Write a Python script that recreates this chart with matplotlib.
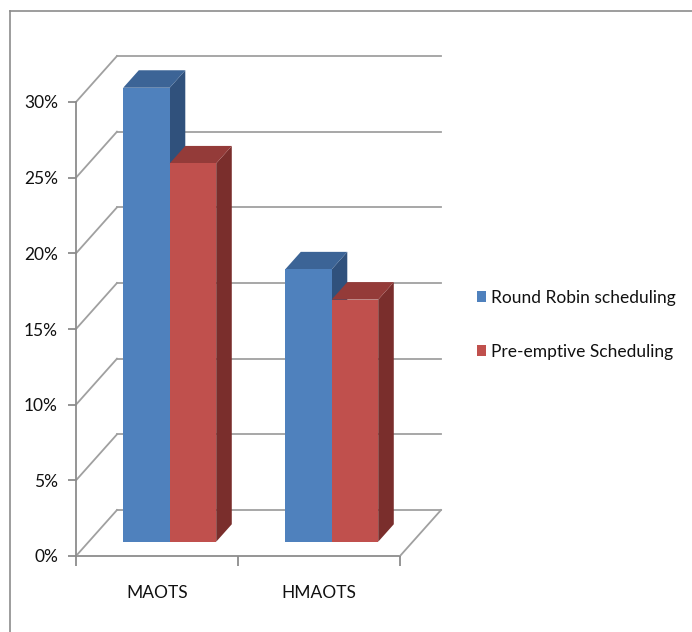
import matplotlib
matplotlib.use("Agg")
import matplotlib.pyplot as plt
from matplotlib.patches import Polygon, Patch
from matplotlib.lines import Line2D

plt.rcParams['font.family'] = ['Lato', 'DejaVu Sans']

categories = ["MAOTS", "HMAOTS"]
series_names = ["Round Robin scheduling", "Pre-emptive Scheduling"]
round_robin = [30, 18]
pre_emptive = [25, 16]
y_ticks = [0, 5, 10, 15, 20, 25, 30]
y_tick_labels = ["0%", "5%", "10%", "15%", "20%", "25%", "30%"]

W, H = 692, 632
fig = plt.figure(figsize=(W / 100, H / 100), dpi=100)
fig.patch.set_facecolor("white")

# front plane: x 76..400 px, y 556 (0%) .. 102 (30%)
ax = fig.add_axes([76 / W, (H - 556) / H, (400 - 76) / W, (556 - 102) / H])
ax.set_xlim(0, len(categories))
ax.set_ylim(0, 30)
ax.set_facecolor("none")

# depth offset (full depth) in data units
DX = 41 / 162.0
DY = 46 / (454 / 30.0)

grid_c = "#a0a0a0"
glw = 1.3
n = len(categories)
for v in y_ticks:
    ax.plot([DX, n + DX], [v + DY, v + DY], color=grid_c, lw=glw, clip_on=False, zorder=1)
    ax.plot([0, DX], [v, v + DY], color=grid_c, lw=glw, clip_on=False, zorder=1)
# floor right edge
ax.plot([n, n + DX], [0, DY], color=grid_c, lw=glw, clip_on=False, zorder=1)

# bars
front_colors = ["#4F81BD", "#C0504D"]
top_colors = ["#3C6496", "#943B39"]
side_colors = ["#30517C", "#7A2E2C"]
bar_w = 0.287
f0, fd = 0.31, 0.38  # depth position / depth of bars (fraction)
ox, oy = f0 * DX, f0 * DY
bx, by = fd * DX, fd * DY
z = 3
for i in range(n):
    for s, vals in enumerate([round_robin, pre_emptive]):
        x0 = i + 0.5 - bar_w + s * bar_w + ox
        x1 = x0 + bar_w
        y0 = oy
        y1 = vals[i] + oy
        # side face
        ax.add_patch(Polygon([(x1, y0), (x1 + bx, y0 + by), (x1 + bx, y1 + by), (x1, y1)],
                             closed=True, fc=side_colors[s], ec="none", clip_on=False, zorder=z))
        # top face
        ax.add_patch(Polygon([(x0, y1), (x1, y1), (x1 + bx, y1 + by), (x0 + bx, y1 + by)],
                             closed=True, fc=top_colors[s], ec="none", clip_on=False, zorder=z))
        # front face
        ax.add_patch(Polygon([(x0, y0), (x1, y0), (x1, y1), (x0, y1)],
                             closed=True, fc=front_colors[s], ec="none", clip_on=False, zorder=z))
        z += 1

# axes spines / ticks
for sp in ["top", "right"]:
    ax.spines[sp].set_visible(False)
for sp in ["left", "bottom"]:
    ax.spines[sp].set_color("#8c8c8c")
    ax.spines[sp].set_linewidth(1.3)
ax.spines["bottom"].set_zorder(0.5)

fs = 12.5
ax.set_yticks(y_ticks)
ax.set_yticklabels(y_tick_labels)
ax.tick_params(axis="y", length=6, width=1.3, color="#8c8c8c", pad=7,
               labelsize=fs, labelcolor="#111111")
ax.set_xticks(range(n + 1))
ax.set_xticklabels([])
ax.set_xticks([i + 0.5 for i in range(n)], minor=True)
ax.set_xticklabels(categories, minor=True)
ax.tick_params(axis="x", which="major", length=7, width=1.3, color="#8c8c8c")
ax.tick_params(axis="x", which="minor", length=0, pad=21, labelsize=fs, labelcolor="#111111")

# legend
handles = [Patch(facecolor=c, edgecolor="none") for c in front_colors]
fig.legend(handles, series_names, loc="center left",
           bbox_to_anchor=(461 / W, 1 - 325 / H), frameon=False,
           fontsize=fs, handlelength=0.55, handleheight=0.6, handletextpad=0.3,
           labelspacing=2.2, labelcolor="#111111")

# outer border (top and left only visible)
fig.add_artist(Line2D([10 / W, 10 / W], [0, 1 - 11 / H], transform=fig.transFigure,
                      color="#8c8c8c", lw=1.2))
fig.add_artist(Line2D([10 / W, 1], [1 - 11 / H, 1 - 11 / H], transform=fig.transFigure,
                      color="#8c8c8c", lw=1.2))

fig.savefig("out.png", dpi=100, facecolor="white")
